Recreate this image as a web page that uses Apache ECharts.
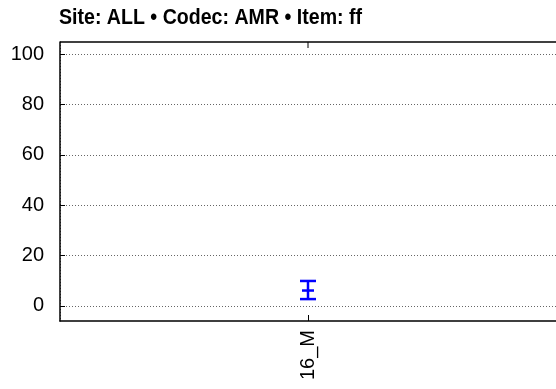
<!DOCTYPE html>
<html>
<head>
<meta charset="utf-8">
<script src="https://cdn.jsdelivr.net/npm/echarts@6/dist/echarts.min.js"></script>
<style>html,body{margin:0;padding:0;background:#fff}#c{width:556px;height:389px}</style>
</head>
<body>
<div id="c"></div>
<script>
const titleText = 'Site: ALL • Codec: AMR • Item: ff';
const categories = ['16_M'];
const lowValues = [2.7];
const meanValues = [6.1];
const highValues = [9.9];
const yTicks = [0, 20, 40, 60, 80, 100];

const chart = echarts.init(document.getElementById('c'));
const data = categories.map((c, i) => [i, lowValues[i], meanValues[i], highValues[i]]);
chart.setOption({
  animation: false,
  grid: { left: 60, right: -4, top: 42, bottom: 68, containLabel: false },
  xAxis: {
    type: 'category', data: categories, boundaryGap: true,
    axisLine: { show: true, onZero: false, lineStyle: { color: '#000', width: 1.5 } },
    axisTick: { show: true, inside: true, alignWithLabel: true, length: 6, lineStyle: { color: '#000' } },
    axisLabel: { rotate: 90, margin: 9, fontFamily: 'Liberation Sans', fontSize: 20, color: '#000' },
    splitLine: { show: true, lineStyle: { color: '#666', type: [1, 2], width: 1 } }
  },
  yAxis: {
    type: 'value', min: -6, max: 104.8,
    axisLine: { show: true, onZero: false, lineStyle: { color: '#000', width: 1.5 } },
    axisTick: { show: true, inside: true, length: 5, customValues: yTicks, lineStyle: { color: '#000' } },
    axisLabel: { customValues: yTicks, margin: 16, fontFamily: 'Liberation Sans', fontSize: 20, color: '#000' },
    splitLine: { show: true, lineStyle: { color: '#666', type: [1, 2], width: 1 } }
  },
  series: [{
    type: 'custom',
    data: data,
    encode: { x: 0, y: [1, 2, 3] },
    renderItem: function (params, api) {
      const x = api.value(0);
      const lo = api.coord([x, api.value(1)]);
      const mid = api.coord([x, api.value(2)]);
      const hi = api.coord([x, api.value(3)]);
      const style = { stroke: '#0000ff', lineWidth: 2.5 };
      const cap = 8, mcap = 6;
      return {
        type: 'group',
        children: [
          { type: 'line', shape: { x1: lo[0], y1: lo[1], x2: hi[0], y2: hi[1] }, style: style },
          { type: 'line', shape: { x1: hi[0] - cap, y1: hi[1], x2: hi[0] + cap, y2: hi[1] }, style: style },
          { type: 'line', shape: { x1: lo[0] - cap, y1: lo[1], x2: lo[0] + cap, y2: lo[1] }, style: style },
          { type: 'line', shape: { x1: mid[0] - mcap, y1: mid[1], x2: mid[0] + mcap, y2: mid[1] }, style: style }
        ]
      };
    }
  }]
});
const g = chart.getModel().getComponent('grid').coordinateSystem.getRect();
const cx = chart.convertToPixel({ xAxisIndex: 0 }, categories[0]);
chart.setOption({
  graphic: [
    { type: 'text', left: 59, top: 7, scaleX: 0.89, originX: 0,
      style: { text: titleText, font: 'bold 22px "Liberation Sans"', fill: '#000' } },
    { type: 'line', shape: { x1: g.x, y1: g.y, x2: g.x + g.width, y2: g.y }, style: { stroke: '#000', lineWidth: 1.5 }, z: 10 },
    { type: 'line', shape: { x1: cx, y1: g.y, x2: cx, y2: g.y + 6 }, style: { stroke: '#000', lineWidth: 1 }, z: 10 }
  ]
});
</script>
</body>
</html>
